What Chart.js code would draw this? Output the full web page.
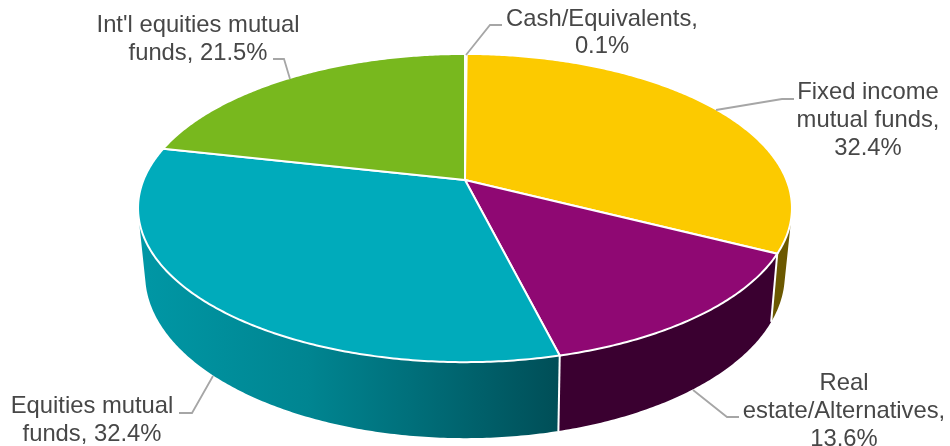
<!DOCTYPE html>
<html>
<head>
<meta charset="utf-8">
<title>Asset allocation</title>
<script src="https://cdn.jsdelivr.net/npm/chart.js@4"></script>
<style>
  html, body { margin: 0; padding: 0; background: #fff; }
  canvas { display: block; }
</style>
</head>
<body>
<canvas id="pie" width="950" height="446"></canvas>
<script>
const categories = ['Cash/Equivalents', 'Fixed income mutual funds', 'Real estate/Alternatives', 'Equities mutual funds', "Int'l equities mutual funds"];
const shares = [0.1, 32.4, 13.6, 32.4, 21.5];
const topColors = ['#b4b6b8', '#fcca00', '#8f0873', '#00abbb', '#78b81e'];
const sideColors = ['#6b6c6d', '#6b5800', '#3a0030', null, '#47700f'];

// wrapped the way the reference wraps them, share is appended from shares[]
const labelLines = [
  ['Cash/Equivalents,', ''],
  ['Fixed income', 'mutual funds,', ''],
  ['Real', 'estate/Alternatives,', ''],
  ['Equities mutual', 'funds, '],
  ["Int'l equities mutual", 'funds, ']
];
const labelPos = [
  { x: 602, y: 26, gap: 27 },
  { x: 868, y: 99, gap: 28 },
  { x: 844, y: 390, gap: 28 },
  { x: 92, y: 413, gap: 28 },
  { x: 198, y: 32, gap: 28 }
];
const leaders = [
  [[502, 25], [490, 25], [466, 55]],
  [[794, 99], [782, 99], [716, 110]],
  [[739, 417], [727, 417], [693, 390]],
  [[179, 413], [192, 413], [213, 376]],
  [[273, 59], [284, 59], [290, 79]]
];

// perspective of the two disc faces, fitted to the reference
const topFace = { x: 465, y: 180, a: 321.5, b: 149, k: 0.182 };
const bottomFace = { x: 465, y: 243.7, a: 314, b: 157.5, k: 0.19 };

function project(face, angle) {
  // chart.js angles start at -PI/2 for 12 o'clock
  const u = Math.cos(angle);
  const v = Math.sin(angle);
  const d = 1 - face.k * v;
  return [face.x + face.a * u / d, face.y + face.b * v / d];
}

function traceArc(ctx, face, from, to, first) {
  const steps = Math.max(2, Math.ceil(Math.abs(to - from) / 0.01));
  for (let i = 0; i <= steps; i++) {
    const p = project(face, from + (to - from) * i / steps);
    if (i === 0 && first) ctx.moveTo(p[0], p[1]);
    else ctx.lineTo(p[0], p[1]);
  }
}

function sideFill(ctx, i) {
  if (sideColors[i]) return sideColors[i];
  const g = ctx.createLinearGradient(140, 0, 560, 0);
  g.addColorStop(0, '#0097a5');
  g.addColorStop(0.4, '#008591');
  g.addColorStop(0.65, '#006f7a');
  g.addColorStop(1, '#004e57');
  return g;
}

function signedArea(p) {
  let area = 0;
  p.forEach((q, n) => {
    const r = p[(n + 1) % p.length];
    area += q[0] * r[1] - r[0] * q[1];
  });
  return area;
}

// the wall folds over at the silhouette: one path of small quads, all wound
// the same way, so the nonzero fill gives their union with no seams
function drawWall(ctx, arc, fill) {
  const steps = Math.max(2, Math.ceil((arc.endAngle - arc.startAngle) / 0.01));
  const size = (arc.endAngle - arc.startAngle) / steps;
  ctx.beginPath();
  for (let i = 0; i < steps; i++) {
    const a = arc.startAngle + i * size;
    const p = [project(topFace, a), project(topFace, a + size), project(bottomFace, a + size), project(bottomFace, a)];
    if (signedArea(p) < 0) p.reverse();
    p.forEach((q, n) => n ? ctx.lineTo(q[0], q[1]) : ctx.moveTo(q[0], q[1]));
    ctx.closePath();
  }
  ctx.fillStyle = fill;
  ctx.fill();
}

const pie3d = {
  id: 'pie3d',
  beforeDatasetDraw(chart, args) {
    const ctx = chart.ctx;
    const arcs = chart.getDatasetMeta(args.index).data;

    ctx.save();
    // walls, back ones first
    [0, 4, 1, 3, 2].forEach(i => drawWall(ctx, arcs[i], sideFill(ctx, i)));

    // seams on the front wall
    ctx.strokeStyle = '#fff';
    ctx.lineWidth = 2;
    [arcs[1].endAngle, arcs[2].endAngle].forEach(a => {
      const p = project(topFace, a);
      const q = project(bottomFace, a);
      ctx.beginPath();
      ctx.moveTo(p[0], p[1]);
      ctx.lineTo(q[0], q[1]);
      ctx.stroke();
    });

    // top face
    arcs.forEach((arc, i) => {
      ctx.beginPath();
      ctx.moveTo(topFace.x, topFace.y);
      traceArc(ctx, topFace, arc.startAngle, arc.endAngle, false);
      ctx.closePath();
      ctx.fillStyle = arc.options.backgroundColor;
      ctx.fill();
      ctx.stroke();
    });
    ctx.restore();
    return false;
  },
  afterDraw(chart) {
    const ctx = chart.ctx;
    ctx.save();
    ctx.strokeStyle = '#a6a6a6';
    ctx.lineWidth = 1.8;
    leaders.forEach(pts => {
      ctx.beginPath();
      pts.forEach((p, i) => i ? ctx.lineTo(p[0], p[1]) : ctx.moveTo(p[0], p[1]));
      ctx.stroke();
    });

    ctx.fillStyle = '#474747';
    ctx.font = '23.8px "Liberation Sans", Arial, sans-serif';
    ctx.textAlign = 'center';
    ctx.textBaseline = 'alphabetic';
    labelLines.forEach((lines, i) => {
      lines.forEach((line, n) => {
        const text = n === lines.length - 1 ? line + shares[i].toFixed(1) + '%' : line;
        ctx.fillText(text, labelPos[i].x, labelPos[i].y + n * labelPos[i].gap);
      });
    });
    ctx.restore();
  }
};

new Chart(document.getElementById('pie'), {
  type: 'pie',
  data: {
    labels: categories,
    datasets: [{ data: shares, backgroundColor: topColors, borderWidth: 0 }]
  },
  options: {
    responsive: false,
    animation: false,
    plugins: { legend: { display: false }, tooltip: { enabled: false } }
  },
  plugins: [pie3d]
});
</script>
</body>
</html>
